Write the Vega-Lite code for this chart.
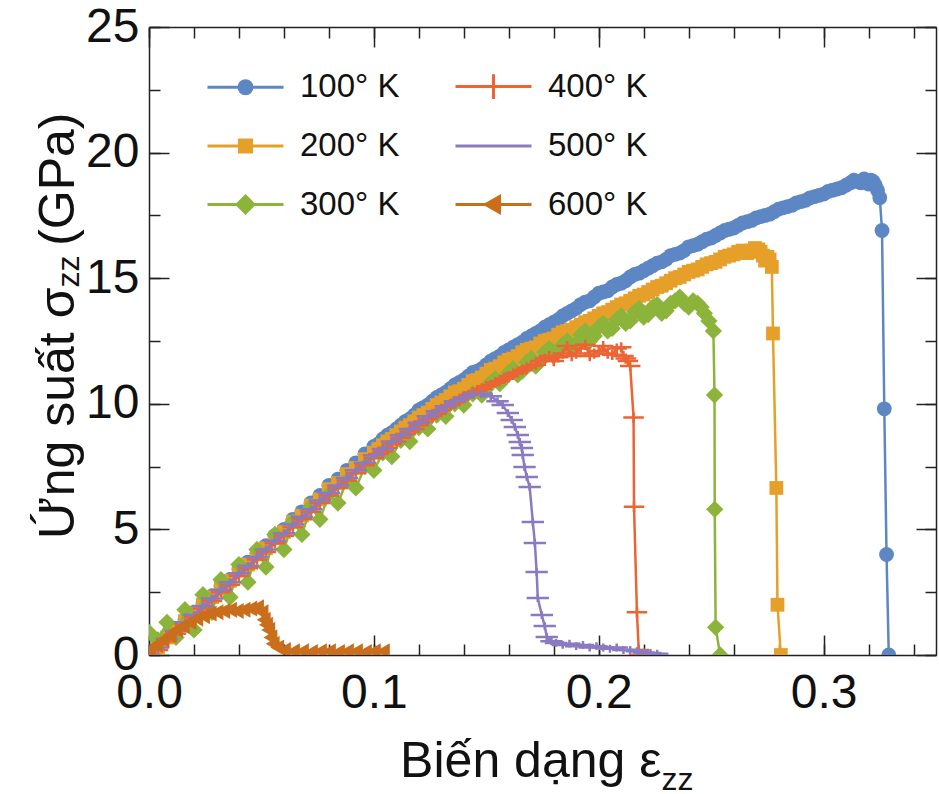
{
"$schema":"https://vega.github.io/schema/vega-lite/v6.json",
"width":787,"height":628,
"autosize":{"type":"none"},
"padding":{"left":149,"top":27,"right":3,"bottom":139},
"config":{"font":"Liberation Sans","view":{"stroke":null},
 "axis":{"grid":false,"domainColor":"#222","domainWidth":1.5,"tickColor":"#222","tickWidth":1.5,"labelFontSize":48,"labelColor":"#111","titleFontSize":50,"titleFontWeight":"normal","titleColor":"#111","zindex":1,"labelOverlap":false,"labelFlush":false}},
"data":{"values":[
{"s":"100° K","x":0,"y":0},{"s":"100° K","x":0.004,"y":0.35},{"s":"100° K","x":0.008,"y":0.75},{"s":"100° K","x":0.012,"y":1.0},{"s":"100° K","x":0.016,"y":1.4},{"s":"100° K","x":0.02,"y":1.7},{"s":"100° K","x":0.024,"y":2.05},{"s":"100° K","x":0.028,"y":2.35},{"s":"100° K","x":0.032,"y":2.75},{"s":"100° K","x":0.036,"y":3.0},{"s":"100° K","x":0.04,"y":3.4},{"s":"100° K","x":0.044,"y":3.7},{"s":"100° K","x":0.048,"y":4.05},{"s":"100° K","x":0.052,"y":4.35},{"s":"100° K","x":0.056,"y":4.75},{"s":"100° K","x":0.06,"y":5.0},{"s":"100° K","x":0.064,"y":5.4},{"s":"100° K","x":0.068,"y":5.7},{"s":"100° K","x":0.072,"y":6.05},{"s":"100° K","x":0.076,"y":6.35},{"s":"100° K","x":0.08,"y":6.75},{"s":"100° K","x":0.084,"y":7.0},{"s":"100° K","x":0.088,"y":7.35},{"s":"100° K","x":0.092,"y":7.65},{"s":"100° K","x":0.096,"y":8.0},{"s":"100° K","x":0.1,"y":8.3},{"s":"100° K","x":0.104,"y":8.6},{"s":"100° K","x":0.108,"y":8.85},{"s":"100° K","x":0.112,"y":9.15},{"s":"100° K","x":0.116,"y":9.4},{"s":"100° K","x":0.12,"y":9.75},{"s":"100° K","x":0.124,"y":9.95},{"s":"100° K","x":0.128,"y":10.25},{"s":"100° K","x":0.132,"y":10.45},{"s":"100° K","x":0.136,"y":10.75},{"s":"100° K","x":0.14,"y":10.95},{"s":"100° K","x":0.144,"y":11.25},{"s":"100° K","x":0.148,"y":11.4},{"s":"100° K","x":0.152,"y":11.7},{"s":"100° K","x":0.156,"y":11.9},{"s":"100° K","x":0.16,"y":12.15},{"s":"100° K","x":0.164,"y":12.35},{"s":"100° K","x":0.168,"y":12.6},{"s":"100° K","x":0.172,"y":12.8},{"s":"100° K","x":0.176,"y":13.05},{"s":"100° K","x":0.18,"y":13.25},{"s":"100° K","x":0.184,"y":13.5},{"s":"100° K","x":0.188,"y":13.7},{"s":"100° K","x":0.192,"y":13.95},{"s":"100° K","x":0.196,"y":14.1},{"s":"100° K","x":0.2,"y":14.4},{"s":"100° K","x":0.204,"y":14.5},{"s":"100° K","x":0.208,"y":14.75},{"s":"100° K","x":0.212,"y":14.9},{"s":"100° K","x":0.216,"y":15.15},{"s":"100° K","x":0.22,"y":15.3},{"s":"100° K","x":0.224,"y":15.5},{"s":"100° K","x":0.228,"y":15.65},{"s":"100° K","x":0.232,"y":15.9},{"s":"100° K","x":0.236,"y":16.0},{"s":"100° K","x":0.24,"y":16.25},{"s":"100° K","x":0.244,"y":16.35},{"s":"100° K","x":0.248,"y":16.55},{"s":"100° K","x":0.252,"y":16.7},{"s":"100° K","x":0.256,"y":16.9},{"s":"100° K","x":0.26,"y":17.0},{"s":"100° K","x":0.264,"y":17.2},{"s":"100° K","x":0.268,"y":17.3},{"s":"100° K","x":0.272,"y":17.45},{"s":"100° K","x":0.276,"y":17.55},{"s":"100° K","x":0.28,"y":17.75},{"s":"100° K","x":0.284,"y":17.85},{"s":"100° K","x":0.288,"y":18.0},{"s":"100° K","x":0.292,"y":18.1},{"s":"100° K","x":0.296,"y":18.25},{"s":"100° K","x":0.3,"y":18.35},{"s":"100° K","x":0.304,"y":18.5},{"s":"100° K","x":0.308,"y":18.6},{"s":"100° K","x":0.312,"y":18.8},{"s":"100° K","x":0.315,"y":18.85},{"s":"100° K","x":0.318,"y":18.95},{"s":"100° K","x":0.32,"y":18.75},{"s":"100° K","x":0.322,"y":18.85},{"s":"100° K","x":0.324,"y":18.5},{"s":"100° K","x":0.325,"y":18.2},{"s":"100° K","x":0.326,"y":16.9},{"s":"100° K","x":0.327,"y":9.8},{"s":"100° K","x":0.328,"y":4.0},{"s":"100° K","x":0.329,"y":0},
{"s":"100° K","x":0.102,"y":8.4},{"s":"100° K","x":0.106,"y":8.75},{"s":"100° K","x":0.11,"y":9.0},{"s":"100° K","x":0.114,"y":9.3},{"s":"100° K","x":0.118,"y":9.55},{"s":"100° K","x":0.122,"y":9.85},{"s":"100° K","x":0.126,"y":10.1},{"s":"100° K","x":0.13,"y":10.35},{"s":"100° K","x":0.134,"y":10.6},{"s":"100° K","x":0.138,"y":10.85},{"s":"100° K","x":0.142,"y":11.1},{"s":"100° K","x":0.146,"y":11.3},{"s":"100° K","x":0.15,"y":11.55},{"s":"100° K","x":0.154,"y":11.8},{"s":"100° K","x":0.158,"y":12.05},{"s":"100° K","x":0.162,"y":12.25},{"s":"100° K","x":0.166,"y":12.45},{"s":"100° K","x":0.17,"y":12.7},{"s":"100° K","x":0.174,"y":12.9},{"s":"100° K","x":0.178,"y":13.15},{"s":"100° K","x":0.182,"y":13.35},{"s":"100° K","x":0.186,"y":13.6},{"s":"100° K","x":0.19,"y":13.8},{"s":"100° K","x":0.194,"y":14.05},{"s":"100° K","x":0.198,"y":14.25},{"s":"100° K","x":0.202,"y":14.45},{"s":"100° K","x":0.206,"y":14.65},{"s":"100° K","x":0.21,"y":14.8},{"s":"100° K","x":0.214,"y":15.05},{"s":"100° K","x":0.218,"y":15.2},{"s":"100° K","x":0.222,"y":15.4},{"s":"100° K","x":0.226,"y":15.6},{"s":"100° K","x":0.23,"y":15.75},{"s":"100° K","x":0.234,"y":15.95},{"s":"100° K","x":0.238,"y":16.1},{"s":"100° K","x":0.242,"y":16.3},{"s":"100° K","x":0.246,"y":16.45},{"s":"100° K","x":0.25,"y":16.6},{"s":"100° K","x":0.254,"y":16.8},{"s":"100° K","x":0.258,"y":16.95},{"s":"100° K","x":0.262,"y":17.1},{"s":"100° K","x":0.266,"y":17.25},{"s":"100° K","x":0.27,"y":17.4},{"s":"100° K","x":0.274,"y":17.5},{"s":"100° K","x":0.278,"y":17.65},{"s":"100° K","x":0.282,"y":17.8},{"s":"100° K","x":0.286,"y":17.9},{"s":"100° K","x":0.29,"y":18.05},{"s":"100° K","x":0.294,"y":18.2},{"s":"100° K","x":0.298,"y":18.3},{"s":"100° K","x":0.302,"y":18.45},{"s":"100° K","x":0.306,"y":18.55},{"s":"100° K","x":0.31,"y":18.7},{"s":"100° K","x":0.3135,"y":18.9},{"s":"100° K","x":0.3165,"y":18.8},{"s":"100° K","x":0.319,"y":18.85},{"s":"100° K","x":0.321,"y":18.9},{"s":"100° K","x":0.323,"y":18.7},
{"s":"200° K","x":0,"y":0},{"s":"200° K","x":0.004,"y":0.3},{"s":"200° K","x":0.008,"y":0.7},{"s":"200° K","x":0.012,"y":0.95},{"s":"200° K","x":0.016,"y":1.35},{"s":"200° K","x":0.02,"y":1.65},{"s":"200° K","x":0.024,"y":2.0},{"s":"200° K","x":0.028,"y":2.3},{"s":"200° K","x":0.032,"y":2.65},{"s":"200° K","x":0.036,"y":2.95},{"s":"200° K","x":0.04,"y":3.35},{"s":"200° K","x":0.044,"y":3.6},{"s":"200° K","x":0.048,"y":4.0},{"s":"200° K","x":0.052,"y":4.25},{"s":"200° K","x":0.056,"y":4.65},{"s":"200° K","x":0.06,"y":4.9},{"s":"200° K","x":0.064,"y":5.3},{"s":"200° K","x":0.068,"y":5.55},{"s":"200° K","x":0.072,"y":5.95},{"s":"200° K","x":0.076,"y":6.2},{"s":"200° K","x":0.08,"y":6.6},{"s":"200° K","x":0.084,"y":6.85},{"s":"200° K","x":0.088,"y":7.2},{"s":"200° K","x":0.092,"y":7.45},{"s":"200° K","x":0.096,"y":7.8},{"s":"200° K","x":0.1,"y":8.05},{"s":"200° K","x":0.104,"y":8.35},{"s":"200° K","x":0.108,"y":8.6},{"s":"200° K","x":0.112,"y":8.9},{"s":"200° K","x":0.116,"y":9.15},{"s":"200° K","x":0.12,"y":9.45},{"s":"200° K","x":0.124,"y":9.65},{"s":"200° K","x":0.128,"y":9.95},{"s":"200° K","x":0.132,"y":10.15},{"s":"200° K","x":0.136,"y":10.45},{"s":"200° K","x":0.14,"y":10.6},{"s":"200° K","x":0.144,"y":10.9},{"s":"200° K","x":0.148,"y":11.05},{"s":"200° K","x":0.152,"y":11.35},{"s":"200° K","x":0.156,"y":11.5},{"s":"200° K","x":0.16,"y":11.75},{"s":"200° K","x":0.164,"y":11.9},{"s":"200° K","x":0.168,"y":12.15},{"s":"200° K","x":0.172,"y":12.25},{"s":"200° K","x":0.176,"y":12.5},{"s":"200° K","x":0.18,"y":12.6},{"s":"200° K","x":0.184,"y":12.85},{"s":"200° K","x":0.188,"y":12.95},{"s":"200° K","x":0.192,"y":13.15},{"s":"200° K","x":0.196,"y":13.3},{"s":"200° K","x":0.2,"y":13.5},{"s":"200° K","x":0.204,"y":13.65},{"s":"200° K","x":0.208,"y":13.85},{"s":"200° K","x":0.212,"y":14.0},{"s":"200° K","x":0.216,"y":14.2},{"s":"200° K","x":0.22,"y":14.35},{"s":"200° K","x":0.224,"y":14.55},{"s":"200° K","x":0.228,"y":14.7},{"s":"200° K","x":0.232,"y":14.9},{"s":"200° K","x":0.236,"y":15.05},{"s":"200° K","x":0.24,"y":15.25},{"s":"200° K","x":0.244,"y":15.35},{"s":"200° K","x":0.248,"y":15.55},{"s":"200° K","x":0.252,"y":15.65},{"s":"200° K","x":0.256,"y":15.85},{"s":"200° K","x":0.26,"y":15.95},{"s":"200° K","x":0.264,"y":16.1},{"s":"200° K","x":0.268,"y":16.1},{"s":"200° K","x":0.271,"y":16.15},{"s":"200° K","x":0.273,"y":15.9},{"s":"200° K","x":0.275,"y":15.85},{"s":"200° K","x":0.277,"y":15.45},{"s":"200° K","x":0.2775,"y":12.8},{"s":"200° K","x":0.279,"y":6.65},{"s":"200° K","x":0.2795,"y":2.0},{"s":"200° K","x":0.281,"y":0},
{"s":"200° K","x":0.102,"y":8.2},{"s":"200° K","x":0.106,"y":8.5},{"s":"200° K","x":0.11,"y":8.75},{"s":"200° K","x":0.114,"y":9.05},{"s":"200° K","x":0.118,"y":9.3},{"s":"200° K","x":0.122,"y":9.55},{"s":"200° K","x":0.126,"y":9.8},{"s":"200° K","x":0.13,"y":10.05},{"s":"200° K","x":0.134,"y":10.3},{"s":"200° K","x":0.138,"y":10.5},{"s":"200° K","x":0.142,"y":10.75},{"s":"200° K","x":0.146,"y":10.95},{"s":"200° K","x":0.15,"y":11.2},{"s":"200° K","x":0.154,"y":11.4},{"s":"200° K","x":0.158,"y":11.65},{"s":"200° K","x":0.162,"y":11.8},{"s":"200° K","x":0.166,"y":12.05},{"s":"200° K","x":0.17,"y":12.2},{"s":"200° K","x":0.174,"y":12.4},{"s":"200° K","x":0.178,"y":12.55},{"s":"200° K","x":0.182,"y":12.75},{"s":"200° K","x":0.186,"y":12.9},{"s":"200° K","x":0.19,"y":13.05},{"s":"200° K","x":0.194,"y":13.25},{"s":"200° K","x":0.198,"y":13.4},{"s":"200° K","x":0.202,"y":13.6},{"s":"200° K","x":0.206,"y":13.75},{"s":"200° K","x":0.21,"y":13.95},{"s":"200° K","x":0.214,"y":14.1},{"s":"200° K","x":0.218,"y":14.3},{"s":"200° K","x":0.222,"y":14.45},{"s":"200° K","x":0.226,"y":14.65},{"s":"200° K","x":0.23,"y":14.8},{"s":"200° K","x":0.234,"y":15.0},{"s":"200° K","x":0.238,"y":15.15},{"s":"200° K","x":0.242,"y":15.3},{"s":"200° K","x":0.246,"y":15.45},{"s":"200° K","x":0.25,"y":15.6},{"s":"200° K","x":0.254,"y":15.75},{"s":"200° K","x":0.258,"y":15.9},{"s":"200° K","x":0.262,"y":16.05},{"s":"200° K","x":0.266,"y":16.0},{"s":"200° K","x":0.2695,"y":16.2},{"s":"200° K","x":0.272,"y":16.05},{"s":"200° K","x":0.274,"y":15.7},{"s":"200° K","x":0.276,"y":15.75},
{"s":"300° K","x":0,"y":0.9},{"s":"300° K","x":0.004,"y":0.6},{"s":"300° K","x":0.008,"y":1.3},{"s":"300° K","x":0.012,"y":0.7},{"s":"300° K","x":0.016,"y":1.8},{"s":"300° K","x":0.02,"y":1.0},{"s":"300° K","x":0.024,"y":2.4},{"s":"300° K","x":0.028,"y":1.7},{"s":"300° K","x":0.032,"y":3.0},{"s":"300° K","x":0.036,"y":2.3},{"s":"300° K","x":0.04,"y":3.6},{"s":"300° K","x":0.044,"y":2.9},{"s":"300° K","x":0.048,"y":4.2},{"s":"300° K","x":0.052,"y":3.5},{"s":"300° K","x":0.056,"y":4.8},{"s":"300° K","x":0.06,"y":4.2},{"s":"300° K","x":0.064,"y":5.3},{"s":"300° K","x":0.068,"y":4.8},{"s":"300° K","x":0.072,"y":5.9},{"s":"300° K","x":0.076,"y":5.4},{"s":"300° K","x":0.08,"y":6.4},{"s":"300° K","x":0.084,"y":6.05},{"s":"300° K","x":0.088,"y":6.95},{"s":"300° K","x":0.092,"y":6.65},{"s":"300° K","x":0.096,"y":7.5},{"s":"300° K","x":0.1,"y":7.35},{"s":"300° K","x":0.104,"y":8.05},{"s":"300° K","x":0.108,"y":7.9},{"s":"300° K","x":0.112,"y":8.55},{"s":"300° K","x":0.116,"y":8.5},{"s":"300° K","x":0.12,"y":9.05},{"s":"300° K","x":0.124,"y":9.0},{"s":"300° K","x":0.128,"y":9.55},{"s":"300° K","x":0.132,"y":9.5},{"s":"300° K","x":0.136,"y":10.0},{"s":"300° K","x":0.14,"y":9.95},{"s":"300° K","x":0.144,"y":10.4},{"s":"300° K","x":0.148,"y":10.35},{"s":"300° K","x":0.152,"y":10.85},{"s":"300° K","x":0.156,"y":10.8},{"s":"300° K","x":0.16,"y":11.25},{"s":"300° K","x":0.164,"y":11.15},{"s":"300° K","x":0.168,"y":11.65},{"s":"300° K","x":0.172,"y":11.5},{"s":"300° K","x":0.176,"y":12.05},{"s":"300° K","x":0.18,"y":11.9},{"s":"300° K","x":0.184,"y":12.35},{"s":"300° K","x":0.188,"y":12.2},{"s":"300° K","x":0.192,"y":12.75},{"s":"300° K","x":0.196,"y":12.5},{"s":"300° K","x":0.2,"y":13.05},{"s":"300° K","x":0.204,"y":12.9},{"s":"300° K","x":0.208,"y":13.35},{"s":"300° K","x":0.212,"y":13.2},{"s":"300° K","x":0.216,"y":13.65},{"s":"300° K","x":0.22,"y":13.45},{"s":"300° K","x":0.224,"y":13.85},{"s":"300° K","x":0.228,"y":13.6},{"s":"300° K","x":0.232,"y":14.0},{"s":"300° K","x":0.236,"y":14.25},{"s":"300° K","x":0.24,"y":13.85},{"s":"300° K","x":0.244,"y":14.0},{"s":"300° K","x":0.247,"y":13.6},{"s":"300° K","x":0.249,"y":13.3},{"s":"300° K","x":0.251,"y":12.9},{"s":"300° K","x":0.2515,"y":10.35},{"s":"300° K","x":0.2516,"y":5.8},{"s":"300° K","x":0.252,"y":1.1},{"s":"300° K","x":0.254,"y":0},
{"s":"300° K","x":0.15,"y":10.6},{"s":"300° K","x":0.154,"y":11.0},{"s":"300° K","x":0.158,"y":11.0},{"s":"300° K","x":0.162,"y":11.4},{"s":"300° K","x":0.166,"y":11.3},{"s":"300° K","x":0.17,"y":11.8},{"s":"300° K","x":0.174,"y":11.7},{"s":"300° K","x":0.178,"y":12.2},{"s":"300° K","x":0.182,"y":12.1},{"s":"300° K","x":0.186,"y":12.5},{"s":"300° K","x":0.19,"y":12.4},{"s":"300° K","x":0.194,"y":12.9},{"s":"300° K","x":0.198,"y":12.7},{"s":"300° K","x":0.202,"y":13.2},{"s":"300° K","x":0.206,"y":13.0},{"s":"300° K","x":0.21,"y":13.5},{"s":"300° K","x":0.214,"y":13.3},{"s":"300° K","x":0.218,"y":13.8},{"s":"300° K","x":0.222,"y":13.55},{"s":"300° K","x":0.226,"y":13.95},{"s":"300° K","x":0.23,"y":13.7},{"s":"300° K","x":0.234,"y":14.1},{"s":"300° K","x":0.238,"y":14.0},{"s":"300° K","x":0.242,"y":14.1},{"s":"300° K","x":0.2455,"y":13.85},
{"s":"400° K","x":0,"y":0},{"s":"400° K","x":0.004,"y":0.2},{"s":"400° K","x":0.008,"y":0.55},{"s":"400° K","x":0.012,"y":0.85},{"s":"400° K","x":0.016,"y":1.2},{"s":"400° K","x":0.02,"y":1.5},{"s":"400° K","x":0.024,"y":1.85},{"s":"400° K","x":0.028,"y":2.15},{"s":"400° K","x":0.032,"y":2.5},{"s":"400° K","x":0.036,"y":2.8},{"s":"400° K","x":0.04,"y":3.15},{"s":"400° K","x":0.044,"y":3.45},{"s":"400° K","x":0.048,"y":3.8},{"s":"400° K","x":0.052,"y":4.1},{"s":"400° K","x":0.056,"y":4.45},{"s":"400° K","x":0.06,"y":4.75},{"s":"400° K","x":0.064,"y":5.1},{"s":"400° K","x":0.068,"y":5.4},{"s":"400° K","x":0.072,"y":5.7},{"s":"400° K","x":0.076,"y":6.05},{"s":"400° K","x":0.08,"y":6.35},{"s":"400° K","x":0.084,"y":6.65},{"s":"400° K","x":0.088,"y":6.95},{"s":"400° K","x":0.092,"y":7.25},{"s":"400° K","x":0.096,"y":7.55},{"s":"400° K","x":0.1,"y":7.85},{"s":"400° K","x":0.104,"y":8.1},{"s":"400° K","x":0.108,"y":8.4},{"s":"400° K","x":0.112,"y":8.65},{"s":"400° K","x":0.116,"y":8.9},{"s":"400° K","x":0.12,"y":9.15},{"s":"400° K","x":0.124,"y":9.4},{"s":"400° K","x":0.128,"y":9.6},{"s":"400° K","x":0.132,"y":9.85},{"s":"400° K","x":0.136,"y":10.05},{"s":"400° K","x":0.14,"y":10.25},{"s":"400° K","x":0.144,"y":10.45},{"s":"400° K","x":0.148,"y":10.6},{"s":"400° K","x":0.152,"y":10.75},{"s":"400° K","x":0.156,"y":10.9},{"s":"400° K","x":0.16,"y":11.1},{"s":"400° K","x":0.164,"y":11.25},{"s":"400° K","x":0.168,"y":11.45},{"s":"400° K","x":0.172,"y":11.55},{"s":"400° K","x":0.176,"y":11.8},{"s":"400° K","x":0.18,"y":11.7},{"s":"400° K","x":0.184,"y":12.0},{"s":"400° K","x":0.188,"y":11.9},{"s":"400° K","x":0.192,"y":12.2},{"s":"400° K","x":0.196,"y":11.9},{"s":"400° K","x":0.2,"y":12.1},{"s":"400° K","x":0.204,"y":12.0},{"s":"400° K","x":0.208,"y":12.2},{"s":"400° K","x":0.211,"y":11.9},{"s":"400° K","x":0.213,"y":11.7},{"s":"400° K","x":0.214,"y":11.5},{"s":"400° K","x":0.2155,"y":9.45},{"s":"400° K","x":0.2157,"y":5.9},{"s":"400° K","x":0.217,"y":1.7},{"s":"400° K","x":0.2178,"y":0.2},{"s":"400° K","x":0.218,"y":0},
{"s":"400° K","x":0.102,"y":8.0},{"s":"400° K","x":0.106,"y":8.25},{"s":"400° K","x":0.11,"y":8.5},{"s":"400° K","x":0.114,"y":8.8},{"s":"400° K","x":0.118,"y":9.0},{"s":"400° K","x":0.122,"y":9.3},{"s":"400° K","x":0.126,"y":9.5},{"s":"400° K","x":0.13,"y":9.75},{"s":"400° K","x":0.134,"y":9.95},{"s":"400° K","x":0.138,"y":10.15},{"s":"400° K","x":0.142,"y":10.35},{"s":"400° K","x":0.146,"y":10.5},{"s":"400° K","x":0.15,"y":10.7},{"s":"400° K","x":0.154,"y":10.85},{"s":"400° K","x":0.158,"y":11.0},{"s":"400° K","x":0.162,"y":11.2},{"s":"400° K","x":0.166,"y":11.35},{"s":"400° K","x":0.17,"y":11.5},{"s":"400° K","x":0.174,"y":11.7},{"s":"400° K","x":0.178,"y":11.9},{"s":"400° K","x":0.182,"y":11.85},{"s":"400° K","x":0.186,"y":12.3},{"s":"400° K","x":0.19,"y":12.0},{"s":"400° K","x":0.194,"y":12.35},{"s":"400° K","x":0.198,"y":12.0},{"s":"400° K","x":0.202,"y":12.3},{"s":"400° K","x":0.206,"y":11.95},{"s":"400° K","x":0.21,"y":12.25},{"s":"400° K","x":0.212,"y":11.8},
{"s":"500° K","x":0,"y":0},{"s":"500° K","x":0.004,"y":0.3},{"s":"500° K","x":0.008,"y":0.65},{"s":"500° K","x":0.012,"y":0.95},{"s":"500° K","x":0.016,"y":1.3},{"s":"500° K","x":0.02,"y":1.6},{"s":"500° K","x":0.024,"y":1.95},{"s":"500° K","x":0.028,"y":2.25},{"s":"500° K","x":0.032,"y":2.6},{"s":"500° K","x":0.036,"y":2.9},{"s":"500° K","x":0.04,"y":3.25},{"s":"500° K","x":0.044,"y":3.55},{"s":"500° K","x":0.048,"y":3.9},{"s":"500° K","x":0.052,"y":4.2},{"s":"500° K","x":0.056,"y":4.55},{"s":"500° K","x":0.06,"y":4.85},{"s":"500° K","x":0.064,"y":5.2},{"s":"500° K","x":0.068,"y":5.5},{"s":"500° K","x":0.072,"y":5.8},{"s":"500° K","x":0.076,"y":6.15},{"s":"500° K","x":0.08,"y":6.45},{"s":"500° K","x":0.084,"y":6.75},{"s":"500° K","x":0.088,"y":7.05},{"s":"500° K","x":0.092,"y":7.35},{"s":"500° K","x":0.096,"y":7.65},{"s":"500° K","x":0.1,"y":7.95},{"s":"500° K","x":0.104,"y":8.2},{"s":"500° K","x":0.108,"y":8.5},{"s":"500° K","x":0.112,"y":8.75},{"s":"500° K","x":0.116,"y":9.0},{"s":"500° K","x":0.12,"y":9.25},{"s":"500° K","x":0.124,"y":9.5},{"s":"500° K","x":0.128,"y":9.7},{"s":"500° K","x":0.132,"y":9.9},{"s":"500° K","x":0.136,"y":10.1},{"s":"500° K","x":0.14,"y":10.25},{"s":"500° K","x":0.144,"y":10.4},{"s":"500° K","x":0.148,"y":10.4},{"s":"500° K","x":0.152,"y":10.3},{"s":"500° K","x":0.155,"y":10.1},{"s":"500° K","x":0.1573,"y":9.95},{"s":"500° K","x":0.1596,"y":9.63},{"s":"500° K","x":0.1613,"y":9.36},{"s":"500° K","x":0.1627,"y":9.08},{"s":"500° K","x":0.164,"y":8.76},{"s":"500° K","x":0.1649,"y":8.48},{"s":"500° K","x":0.1658,"y":8.24},{"s":"500° K","x":0.1662,"y":7.96},{"s":"500° K","x":0.167,"y":7.48},{"s":"500° K","x":0.168,"y":7.09},{"s":"500° K","x":0.1693,"y":6.69},{"s":"500° K","x":0.1707,"y":5.29},{"s":"500° K","x":0.1716,"y":4.46},{"s":"500° K","x":0.1724,"y":3.3},{"s":"500° K","x":0.1729,"y":2.27},{"s":"500° K","x":0.1747,"y":1.59},{"s":"500° K","x":0.176,"y":1.15},{"s":"500° K","x":0.1769,"y":0.72},{"s":"500° K","x":0.179,"y":0.55},{"s":"500° K","x":0.181,"y":0.48},{"s":"500° K","x":0.184,"y":0.4},{"s":"500° K","x":0.187,"y":0.45},{"s":"500° K","x":0.19,"y":0.35},{"s":"500° K","x":0.193,"y":0.4},{"s":"500° K","x":0.196,"y":0.3},{"s":"500° K","x":0.199,"y":0.35},{"s":"500° K","x":0.202,"y":0.3},{"s":"500° K","x":0.205,"y":0.25},{"s":"500° K","x":0.208,"y":0.3},{"s":"500° K","x":0.211,"y":0.2},{"s":"500° K","x":0.214,"y":0.2},{"s":"500° K","x":0.217,"y":0.15},{"s":"500° K","x":0.22,"y":0.1},{"s":"500° K","x":0.223,"y":0.08},{"s":"500° K","x":0.226,"y":0.05},
{"s":"600° K","x":0,"y":0.2},{"s":"600° K","x":0.003,"y":0.4},{"s":"600° K","x":0.006,"y":0.6},{"s":"600° K","x":0.009,"y":0.8},{"s":"600° K","x":0.012,"y":1.0},{"s":"600° K","x":0.015,"y":1.15},{"s":"600° K","x":0.018,"y":1.3},{"s":"600° K","x":0.021,"y":1.45},{"s":"600° K","x":0.024,"y":1.55},{"s":"600° K","x":0.027,"y":1.65},{"s":"600° K","x":0.03,"y":1.7},{"s":"600° K","x":0.033,"y":1.75},{"s":"600° K","x":0.036,"y":1.8},{"s":"600° K","x":0.039,"y":1.75},{"s":"600° K","x":0.042,"y":1.8},{"s":"600° K","x":0.045,"y":1.85},{"s":"600° K","x":0.048,"y":1.9},{"s":"600° K","x":0.05,"y":1.7},{"s":"600° K","x":0.051,"y":1.4},{"s":"600° K","x":0.052,"y":1.2},{"s":"600° K","x":0.053,"y":1.0},{"s":"600° K","x":0.054,"y":0.7},{"s":"600° K","x":0.055,"y":0.45},{"s":"600° K","x":0.057,"y":0.3},{"s":"600° K","x":0.06,"y":0.2},{"s":"600° K","x":0.064,"y":0.15},{"s":"600° K","x":0.068,"y":0.15},{"s":"600° K","x":0.072,"y":0.12},{"s":"600° K","x":0.076,"y":0.15},{"s":"600° K","x":0.08,"y":0.15},{"s":"600° K","x":0.084,"y":0.12},{"s":"600° K","x":0.088,"y":0.15},{"s":"600° K","x":0.092,"y":0.15},{"s":"600° K","x":0.096,"y":0.12},{"s":"600° K","x":0.1,"y":0.15},{"s":"600° K","x":0.104,"y":0.15}
]},
"resolve":{"axis":{"x":"independent","y":"independent"}},
"layer":[
 {
  "transform":[{"filter":"datum.s==='100° K'"}],
  "mark":{"type":"line","strokeWidth":2.5,"clip":true,"point":{"shape":"circle","size":220,"filled":true,"opacity":1}},
  "encoding":{
   "x":{"field":"x","type":"quantitative","scale":{"domain":[0,0.35],"nice":false,"zero":false},
     "axis":{"orient":"top","values":[0,0.02,0.04,0.06,0.08,0.1,0.12,0.14,0.16,0.18,0.2,0.22,0.24,0.26,0.28,0.3,0.32,0.34],"tickSize":-11,"labels":false,"title":"zz","titleFontSize":32,"titleAlign":"left","titleBaseline":"alphabetic","titleX":512,"titleY":762}},
   "y":{"field":"y","type":"quantitative","scale":{"domain":[0,25],"nice":false},
     "axis":{"orient":"right","values":[0,2.5,5,7.5,10,12.5,15,17.5,20,22.5,25],"tickSize":-11,"labels":false,"title":"zz","titleFontSize":32,"titleAngle":-90,"titleAlign":"left","titleBaseline":"alphabetic","titleX":-858,"titleY":260}},
   "color":{"field":"s","type":"nominal","scale":{"domain":["100° K","200° K","300° K","400° K","500° K","600° K"],"range":["#5D86C4","#E6A02A","#8CB43A","#EC6434","#8A7BC0","#CB6E1C"]},
     "legend":{"orient":"none","legendX":75,"legendY":38,"columns":2,"title":null,"padding":0,"labelFontSize":33,"labelColor":"#111","labelOffset":33,"symbolSize":1600,"symbolStrokeWidth":3,"rowPadding":19.5,"columnPadding":49,
       "encode":{"symbols":{"update":{"shape":{"signal":"datum.value==='100° K' ? 'M-1.9,0H1.9M0.325,0A0.325,0.325,0,1,1,-0.325,0A0.325,0.325,0,1,1,0.325,0Z' : datum.value==='200° K' ? 'M-1.9,0H1.9M-0.3,-0.3H0.3V0.3H-0.3Z' : datum.value==='300° K' ? 'M-1.9,0H1.9M0,-0.42L0.42,0L0,0.42L-0.42,0Z' : datum.value==='400° K' ? 'M-1.9,0H1.9M0,-0.62V0.62' : datum.value==='500° K' ? 'M-1.9,0H1.9' : 'M-1.9,0H1.9M-0.4,0L0.3,-0.4L0.3,0.4Z'"},"fill":{"signal":"scale('color', datum.value)"},"stroke":{"signal":"scale('color', datum.value)"},"strokeWidth":{"value":3},"opacity":{"value":1},"fillOpacity":{"value":1}}}}}}
  }
 },
 {
  "transform":[{"filter":"datum.s==='200° K'"}],
  "mark":{"type":"line","strokeWidth":2.5,"clip":true,"point":{"shape":"square","size":190,"filled":true,"opacity":1}},
  "encoding":{
   "x":{"field":"x","type":"quantitative","scale":{"domain":[0,0.35],"nice":false,"zero":false},
     "axis":{"orient":"top","values":[0,0.1,0.2,0.3],"tickSize":-20,"labels":false,"domain":false,"title":null}},
   "y":{"field":"y","type":"quantitative","scale":{"domain":[0,25],"nice":false},
     "axis":{"orient":"right","values":[0,5,10,15,20,25],"tickSize":-20,"labels":false,"domain":false,"title":"(GPa)","titleAngle":-90,"titleAlign":"right","titleBaseline":"alphabetic","titleX":-863,"titleY":85}},
   "color":{"field":"s","type":"nominal","scale":{"domain":["100° K","200° K","300° K","400° K","500° K","600° K"],"range":["#5D86C4","#E6A02A","#8CB43A","#EC6434","#8A7BC0","#CB6E1C"]}}
  }
 },
 {
  "transform":[{"filter":"datum.s==='300° K'"}],
  "mark":{"type":"line","strokeWidth":2.5,"clip":true,"point":{"shape":"diamond","size":300,"filled":true,"opacity":1}},
  "encoding":{
   "x":{"field":"x","type":"quantitative","scale":{"domain":[0,0.35],"nice":false,"zero":false},
     "axis":{"orient":"bottom","values":[0,0.02,0.04,0.06,0.08,0.1,0.12,0.14,0.16,0.18,0.2,0.22,0.24,0.26,0.28,0.3,0.32,0.34],"tickSize":-11,"labelExpr":"abs(datum.value*10-round(datum.value*10))<0.001 ? format(datum.value,'.1f') : ''","labelPadding":25,"title":"Biến dạng ε","titleAlign":"right","titleBaseline":"alphabetic","titleX":512,"titleY":121}},
   "y":{"field":"y","type":"quantitative","scale":{"domain":[0,25],"nice":false},
     "axis":{"orient":"left","values":[0,2.5,5,7.5,10,12.5,15,17.5,20,22.5,25],"tickSize":-11,"labelExpr":"datum.value%5===0 ? format(datum.value,'d') : ''","labelPadding":21,"title":"Ứng suất σ","titleAngle":-90,"titleAlign":"right","titleBaseline":"alphabetic","titleX":-76,"titleY":260}},
   "color":{"field":"s","type":"nominal","scale":{"domain":["100° K","200° K","300° K","400° K","500° K","600° K"],"range":["#5D86C4","#E6A02A","#8CB43A","#EC6434","#8A7BC0","#CB6E1C"]}}
  }
 },
 {
  "encoding":{
   "x":{"field":"x","type":"quantitative","scale":{"domain":[0,0.35],"nice":false,"zero":false},
     "axis":{"orient":"bottom","values":[0,0.1,0.2,0.3],"tickSize":-20,"labels":false,"domain":false,"title":null}},
   "y":{"field":"y","type":"quantitative","scale":{"domain":[0,25],"nice":false},
     "axis":{"orient":"left","values":[0,5,10,15,20,25],"tickSize":-20,"labels":false,"domain":false,"title":null}},
   "color":{"field":"s","type":"nominal","scale":{"domain":["100° K","200° K","300° K","400° K","500° K","600° K"],"range":["#5D86C4","#E6A02A","#8CB43A","#EC6434","#8A7BC0","#CB6E1C"]}}
  },
  "layer":[
   {"transform":[{"filter":"datum.s==='400° K'"}],
    "mark":{"type":"line","strokeWidth":2.5,"clip":true,"point":{"shape":"M-1,0H1M0,-0.5V0.5","size":420,"filled":false,"strokeWidth":2.5,"opacity":1}}},
   {"transform":[{"filter":"datum.s==='500° K'"}],
    "mark":{"type":"line","strokeWidth":2.5,"clip":true,"point":{"shape":"M-1,0H1M0,-0.35V0.35","size":500,"filled":false,"strokeWidth":2.5,"opacity":1}}},
   {"transform":[{"filter":"datum.s==='600° K'"}],
    "mark":{"type":"line","strokeWidth":2.5,"clip":true,"point":{"shape":"triangle-left","size":260,"filled":true,"opacity":1}}}
  ]
 }
]
}
